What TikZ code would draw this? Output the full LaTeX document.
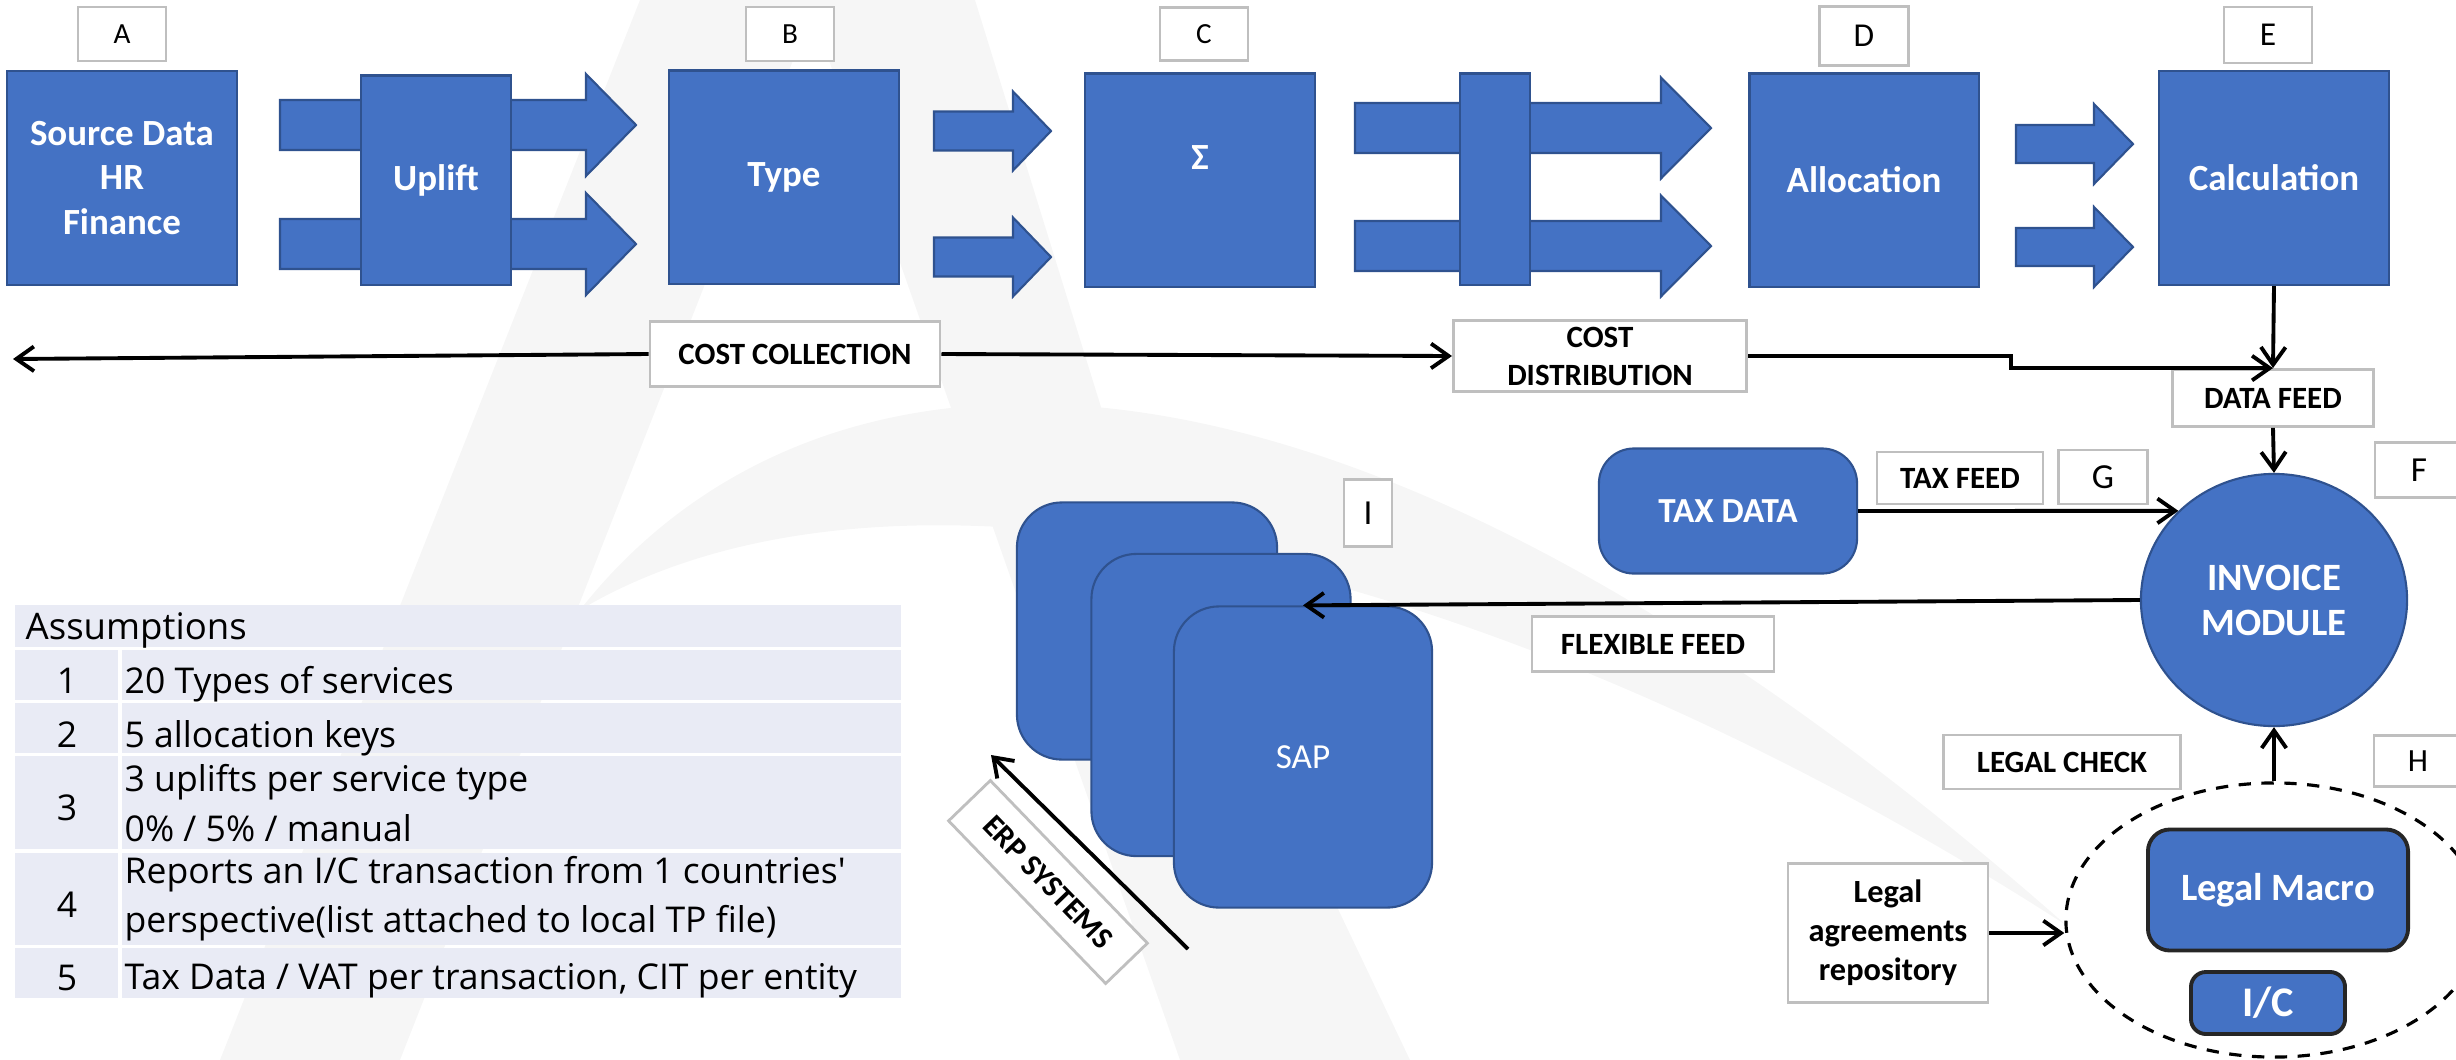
\documentclass[tikz,border=0pt]{standalone}
\usepackage{fontspec}
\setmainfont{Carlito}
\newfontfamily\tablefont{Open Sans}
\usetikzlibrary{arrows.meta,shapes.geometric}

\definecolor{boxblue}{HTML}{4472C4}
\definecolor{boxedge}{HTML}{2F528F}
\definecolor{taggray}{HTML}{BFBFBF}
\definecolor{rowfill}{HTML}{E9EBF5}
\definecolor{wmgray}{HTML}{F6F6F6}

\tikzset{
  blockbox/.style={draw=boxedge, line width=0.6pt, fill=boxblue, text=white, align=center,
    inner sep=0pt, font=\fontsize{10.5}{12.7}\selectfont\bfseries},
  tagbox/.style={draw=taggray, line width=0.8pt, fill=white, inner sep=0pt},
  feedbox/.style={tagbox, align=center, font=\fontsize{8.8}{10.8}\selectfont\bfseries},
  conn/.style={line width=1.1pt, -{Straight Barb[length=5pt,width=7pt]}},
  rowtext/.style={anchor=west, align=left, inner sep=0pt, font=\tablefont\fontsize{10.1}{14}\selectfont}
}

\newcommand{\fatarrow}[6]{%
  \filldraw[fill=boxblue, draw=boxedge, line width=0.6pt]
    (#1,{#4-#5}) -- (#2,{#4-#5}) -- (#2,{#4-#6}) -- (#3,#4) -- (#2,{#4+#6})
    -- (#2,{#4+#5}) -- (#1,{#4+#5}) -- cycle;}

\begin{document}
\begin{tikzpicture}[x=0.01cm, y=-0.01cm]
    \useasboundingbox (0,0) rectangle (2456,1060);
    \clip (0,0) rectangle (2456,1060);

    \fill[wmgray] (640,0) -- (975,0) .. controls (1040,210) .. (1105,420) -- (1410,1060)
        -- (1180,1060) -- (812,12) -- (400,1060) -- (220,1060) -- cycle;
    \fill[wmgray] (580,610) .. controls (800,330) and (1300,250) .. (2066,925)
        .. controls (1500,560) and (900,420) .. (580,610) -- cycle;

    \fill[rowfill] (15,605) rectangle (901,647);
    \node[rowtext, anchor=base west, font=\tablefont\fontsize{10.4}{12}\selectfont] (asshead) at (25,639) {Assumptions};
    \foreach \n/\ya/\yb/\yt in {1/650/700/693, 2/703/753/747, 3/756/849/820, 4/853/945/917, 5/948/998/990} {
        \fill[rowfill] (15,\ya) rectangle (118,\yb);
        \fill[rowfill] (122,\ya) rectangle (901,\yb);
        \node[anchor=base, inner sep=0pt, font=\tablefont\fontsize{10.1}{14}\selectfont] (num\n) at (67,\yt) {\n};
    }
    \node[rowtext] (row1) at (124,684) {20 Types of services};
    \node[rowtext] (row2) at (124,738) {5 allocation keys};
    \node[rowtext] (row3) at (124,803) {3 uplifts per service type\\0\% / 5\% / manual};
    \node[rowtext] (row4) at (124,899) {Reports an I/C transaction from 1 countries'\\perspective(list attached to local TP file)};
    \node[rowtext] (row5) at (124,981) {Tax Data / VAT per transaction, CIT per entity};

    \foreach \y in {125,244}
        \fatarrow{280}{586}{636}{\y}{25}{51};
    \foreach \y in {131,257}
        \fatarrow{934}{1013}{1051}{\y}{19.5}{39.5};
    \foreach \y in {128,246}
        \fatarrow{1355}{1661}{1711}{\y}{25}{50.5};
    \foreach \y in {144,247}
        \fatarrow{2016}{2094}{2133}{\y}{19}{40};

    \node[blockbox, minimum width=2.3cm, minimum height=2.14cm] (src) at (122,178) {Source Data\\HR\\Finance};
    \node[blockbox, minimum width=1.5cm, minimum height=2.09cm] (uplift) at (436,180) {Uplift};
    \node[blockbox, minimum width=2.3cm, minimum height=2.13cm] (type) at (784,177) {Type};
    \node[blockbox, minimum width=2.29cm, minimum height=2.13cm] (sum) at (1200,180) {};
    \node[text=white, font=\fontsize{10.5}{12}\selectfont\bfseries] (sumsign) at (1200,158) {Σ};
    \node[blockbox, minimum width=0.7cm, minimum height=2.11cm] (split) at (1495,179) {};
    \node[blockbox, minimum width=2.29cm, minimum height=2.13cm] (alloc) at (1864,180) {Allocation};
    \node[blockbox, minimum width=2.3cm, minimum height=2.14cm] (calc) at (2274,178) {Calculation};

    \node[feedbox, minimum width=2.9cm, minimum height=0.65cm] (cc) at (795,354) {COST COLLECTION};
    \node[feedbox, minimum width=2.93cm, minimum height=0.71cm] (cd) at (1600,356) {COST\\DISTRIBUTION};
    \node[feedbox, minimum width=2.01cm, minimum height=0.57cm] (datafeed) at (2273,398) {DATA FEED};
    \coordinate (leftend) at (13,359);

    \node[blockbox, rounded corners=0.35cm, minimum width=2.58cm, minimum height=1.25cm,
        font=\fontsize{10}{12}\selectfont\bfseries] (tax) at (1728,511) {TAX DATA};
    \node[feedbox, minimum width=1.66cm, minimum height=0.52cm] (taxfeed) at (1960,478) {TAX FEED};
    \node[blockbox, ellipse, minimum width=2.66cm, minimum height=2.52cm,
        font=\fontsize{11}{12.8}\selectfont\bfseries] (inv) at (2274,600) {INVOICE\\MODULE};
    \node[feedbox, minimum width=2.42cm, minimum height=0.55cm] (flexfeed) at (1653,644) {FLEXIBLE FEED};
    \node[feedbox, minimum width=2.37cm, minimum height=0.54cm] (legalcheck) at (2062,762) {LEGAL CHECK};

    \node[draw, ellipse, line width=0.9pt, dash pattern=on 3.5pt off 3pt,
        minimum width=4.16cm, minimum height=2.74cm] (legalzone) at (2274,920) {};
    \node[blockbox, draw=black!85, line width=1.1pt, rounded corners=0.22cm, minimum width=2.6cm,
        minimum height=1.21cm, font=\fontsize{11}{13}\selectfont\bfseries] (macro) at (2278,890) {Legal Macro};
    \node[blockbox, draw=black!85, line width=1.1pt, rounded corners=0.15cm, minimum width=1.54cm,
        minimum height=0.62cm, font=\fontsize{12}{14}\selectfont\bfseries] (ic) at (2268,1003) {I/C};
    \node[feedbox, minimum width=2cm, minimum height=1.39cm,
        font=\fontsize{9.2}{11.1}\selectfont\bfseries] (repo) at (1888,933) {Legal\\agreements\\repository};

    \node[blockbox, rounded corners=0.45cm, minimum width=2.6cm, minimum height=2.57cm] (sapback) at (1147,631) {};
    \node[blockbox, rounded corners=0.45cm, minimum width=2.59cm, minimum height=3.02cm] (sapmid) at (1221,705) {};
    \node[blockbox, rounded corners=0.45cm, minimum width=2.58cm, minimum height=3.01cm,
        font=\fontsize{10}{12}\selectfont] (sap) at (1303,757) {SAP};
    \node[feedbox, rotate=-46, minimum width=2.26cm, minimum height=0.58cm] (erp) at (1048,882) {ERP SYSTEMS};
    \coordinate (erptail) at (1188,949);
    \coordinate (erphead) at (991,755);

    \foreach \lbl/\x/\y/\w/\h/\fs in {A/122/34/0.88/0.54/8.3, B/790/34/0.88/0.54/8.3, C/1204/34/0.88/0.53/8.3,
            D/1864/36/0.89/0.59/9.5, E/2268/35/0.88/0.56/9.5, F/2419/470/0.88/0.55/10,
            G/2103/477/0.89/0.54/10, H/2418/761/0.88/0.51/9.2, I/1368/513/0.48/0.67/10}
        \node[tagbox, minimum width=\w cm, minimum height=\h cm, font=\fontsize{\fs}{12}\selectfont] (tag\lbl) at (\x,\y) {\lbl};

    \draw[conn] (cc.west) -- (leftend);
    \draw[conn] (cc.east) -- (cd.west);
    \draw[conn] (cd.east) -- ++(263,0) |- (datafeed.north);
    \draw[conn] (calc.south) -- (datafeed.north);
    \draw[conn] (datafeed.south) -- (inv.north);
    \draw[conn] (tax.east) -- (inv.137);
    \draw[conn] (inv.west) -- (sap.north);
    \draw[conn] (legalzone.north) -- (inv.south);
    \draw[conn] (repo.east) -- (repo.east -| legalzone.west);
    \draw[conn] (erptail) -- (erphead);
\end{tikzpicture}
\end{document}
